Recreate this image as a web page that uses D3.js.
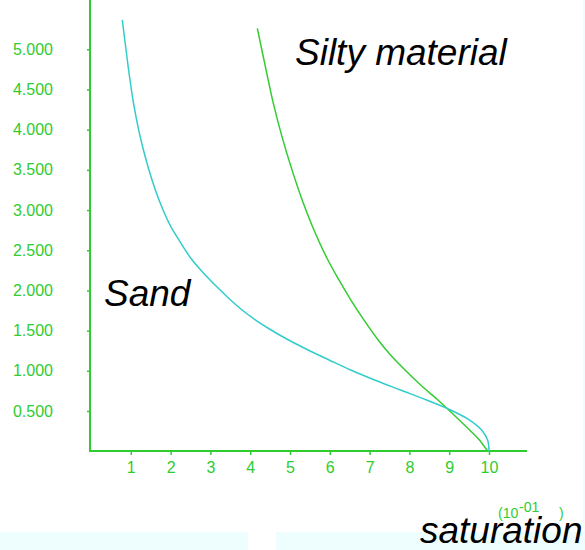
<!DOCTYPE html>
<html>
<head>
<meta charset="utf-8">
<script src="https://cdn.jsdelivr.net/npm/d3@7"></script>
<style>
  html, body { margin: 0; padding: 0; background: #ffffff; }
  svg { display: block; }
  text { font-family: "Liberation Sans", Arial, sans-serif; }
</style>
</head>
<body>
<svg id="chart" width="585" height="550"></svg>
<script>
// ---- data ----
const xTicks = [1, 2, 3, 4, 5, 6, 7, 8, 9, 10];
const yTicks = [0.5, 1.0, 1.5, 2.0, 2.5, 3.0, 3.5, 4.0, 4.5, 5.0];

const sandX = [0.786, 0.849, 0.935, 1.055, 1.196, 1.337, 1.533, 1.709, 1.899, 2.013, 2.209, 2.503, 2.802, 3.244, 3.508, 3.796, 4.136, 4.525, 4.965, 5.455, 5.982, 6.523, 7.126, 7.779, 8.432, 9.035, 9.513, 9.814, 9.965, 10.0];
const sandY = [5.365, 5.116, 4.780, 4.368, 4.001, 3.710, 3.374, 3.125, 2.901, 2.789, 2.628, 2.404, 2.230, 2.005, 1.881, 1.757, 1.632, 1.508, 1.383, 1.259, 1.135, 1.010, 0.886, 0.761, 0.637, 0.513, 0.388, 0.264, 0.139, 0.0];

const siltyX = [4.18, 4.40, 4.58, 4.80, 5.05, 5.31, 5.57, 5.93, 6.23, 6.53, 6.86, 7.22, 7.52, 7.89, 8.29, 8.71, 9.12, 9.52, 9.76, 9.97];
const siltyY = [5.26, 4.74, 4.33, 3.91, 3.50, 3.12, 2.79, 2.40, 2.13, 1.88, 1.63, 1.38, 1.20, 1.01, 0.82, 0.64, 0.45, 0.26, 0.14, 0.0];

const seriesNames = ["Sand", "Silty material"];
const xTitle = "saturation";
const unitBase = "(10";
const unitExp = "-01";
const unitClose = ")";

// ---- layout ----
const svg = d3.select("#chart");
const green = "#2fcc2f";
const cyan = "#33cccc";

// background strips
svg.append("rect").attr("x", 0).attr("y", 532).attr("width", 248).attr("height", 18).attr("fill", "#eefefe");
svg.append("rect").attr("x", 276).attr("y", 532).attr("width", 309).attr("height", 18).attr("fill", "#eefefe");
svg.append("rect").attr("x", 583).attr("y", 0).attr("width", 2).attr("height", 550).attr("fill", "#eefefe");

const x = d3.scaleLinear().domain([0, 10]).range([91, 489]);
const y = d3.scaleLinear().domain([0, 5]).range([451.2, 49.3]);

// axes
const yAxis = d3.axisLeft(y).tickValues(yTicks).tickFormat(d3.format(".3f")).tickSize(3).tickPadding(34);
const gy = svg.append("g").attr("transform", "translate(90,0)").call(yAxis);
gy.select(".domain").remove();
gy.selectAll(".tick line").attr("stroke", green).attr("stroke-width", 1.5);
gy.selectAll(".tick text").attr("fill", green).attr("font-size", 16).attr("font-family", "Liberation Sans, Arial, sans-serif");

const xAxis = d3.axisBottom(x).tickValues(xTicks).tickFormat(d3.format("d")).tickSize(4).tickPadding(7);
const gx = svg.append("g").attr("transform", "translate(0,451)").call(xAxis);
gx.select(".domain").remove();
gx.selectAll(".tick line").attr("stroke", green).attr("stroke-width", 1.5);
gx.selectAll(".tick text").attr("fill", green).attr("font-size", 16).attr("font-family", "Liberation Sans, Arial, sans-serif");

// axis lines
svg.append("line").attr("x1", 90).attr("x2", 90).attr("y1", 0).attr("y2", 452)
  .attr("stroke", green).attr("stroke-width", 2);
svg.append("line").attr("x1", 89).attr("x2", 527).attr("y1", 451).attr("y2", 451)
  .attr("stroke", green).attr("stroke-width", 2);

// curves
const line = d3.line().x(d => x(d[0])).y(d => y(d[1])).curve(d3.curveCatmullRom.alpha(0.5));
const sand = sandX.map((v, i) => [v, sandY[i]]);
const silty = siltyX.map((v, i) => [v, siltyY[i]]);

svg.append("path").datum(silty).attr("d", line).attr("fill", "none")
  .attr("stroke", "#33cc33").attr("stroke-width", 1.5);
svg.append("path").datum(sand).attr("d", line).attr("fill", "none")
  .attr("stroke", cyan).attr("stroke-width", 1.5);

// labels
svg.append("text").attr("x", 104).attr("y", 306).attr("font-size", 37)
  .attr("font-style", "italic").attr("fill", "#000").text(seriesNames[0]);
svg.append("text").attr("x", 295).attr("y", 65).attr("font-size", 37)
  .attr("font-style", "italic").attr("fill", "#000").text(seriesNames[1]);
svg.append("text").attr("x", 420).attr("y", 543).attr("font-size", 37)
  .attr("font-style", "italic").attr("fill", "#000").text(xTitle);

svg.append("text").attr("x", 498).attr("y", 518).attr("font-size", 14).attr("fill", green).text(unitBase);
svg.append("text").attr("x", 519).attr("y", 512).attr("font-size", 14).attr("fill", green).text(unitExp);
svg.append("text").attr("x", 559).attr("y", 518).attr("font-size", 14).attr("fill", green).text(unitClose);
</script>
</body>
</html>
